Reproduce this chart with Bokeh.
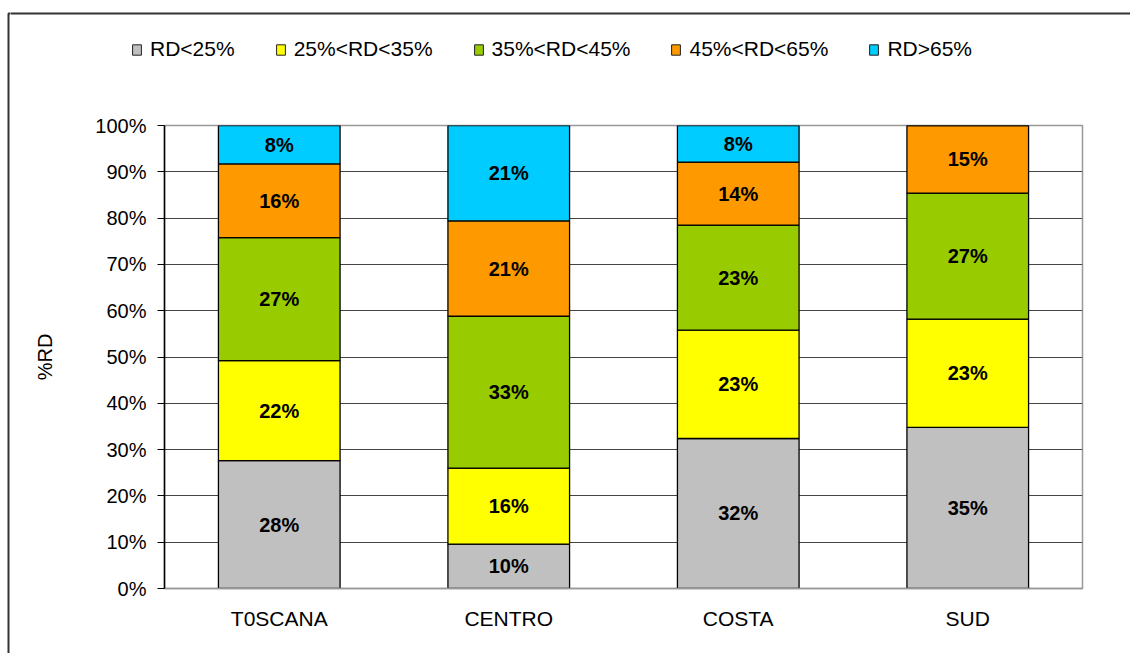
from bokeh.plotting import figure
from bokeh.layouts import column, row
from bokeh.models import (ColumnDataSource, FactorRange, Range1d, FixedTicker,
                          PrintfTickFormatter, Legend, LegendItem, BoxAnnotation)
from bokeh.core.properties import value
from bokeh.embed import file_html
from bokeh.resources import INLINE

# ---- data ----
categories = ["T0SCANA", "CENTRO", "COSTA", "SUD"]
series_names = ["RD<25%", "25%<RD<35%", "35%<RD<45%", "45%<RD<65%", "RD>65%"]
rd_lt25 = [27.6, 9.6, 32.4, 34.8]
rd_25_35 = [21.6, 16.4, 23.4, 23.4]
rd_35_45 = [26.6, 32.8, 22.7, 27.2]
rd_45_65 = [15.9, 20.6, 13.6, 14.6]
rd_gt65 = [8.3, 20.6, 7.9, 0.0]
y_ticks = [0, 10, 20, 30, 40, 50, 60, 70, 80, 90, 100]

colors = ["#C0C0C0", "#FFFF00", "#99CC00", "#FF9900", "#00CCFF"]
keys = ["s0", "s1", "s2", "s3", "s4"]
series = [rd_lt25, rd_25_35, rd_35_45, rd_45_65, rd_gt65]

data = {"cat": categories}
for k, s in zip(keys, series):
    data[k] = s
src = ColumnDataSource(data)

# label positions from data
lx, ly, lt = [], [], []
for i, c in enumerate(categories):
    base = 0.0
    for s in series:
        v = s[i]
        if v > 0:
            lx.append(c)
            ly.append(base + v / 2.0)
            lt.append(f"{round(v):d}%")
        base += v
lsrc = ColumnDataSource({"x": lx, "y": ly, "t": lt})

FONT = "Liberation Sans"
FRAME_COLOR = "#333333"

W, H = 1130, 653
TOP_H = 100
STRIP_W = 10


def bare(fig):
    fig.axis.visible = False
    fig.grid.grid_line_color = None
    fig.outline_line_color = None
    return fig


def frame_edge(left, top):
    # outer chart border (only its top and left edges fall inside the window)
    return BoxAnnotation(left=left, right=10 * W, top=top, bottom=10 * W,
                         fill_alpha=0, line_color=FRAME_COLOR, line_alpha=1.0,
                         line_width=2)


NOB = dict(min_border=0, min_border_left=0, min_border_right=0,
           min_border_top=0, min_border_bottom=0)

# ---- left strip: frame left edge (full height) ----
strip = bare(figure(width=STRIP_W, height=H, output_backend="svg", toolbar_location=None,
                    x_range=Range1d(0, STRIP_W), y_range=Range1d(H, 0), **NOB))
strip.add_layout(frame_edge(8, 13))

# ---- top band: legend + frame top edge ----
top = bare(figure(width=W - STRIP_W, height=TOP_H, output_backend="svg",
                  toolbar_location=None, x_range=Range1d(0, W - STRIP_W),
                  y_range=Range1d(TOP_H, 0), **NOB))
nan = float("nan")
dummy = [top.vbar(x=[nan], top=[nan], width=1, fill_color=c, line_color="#222222",
                  line_width=1) for c in colors]
legend = Legend(items=[LegendItem(label=n, renderers=[r]) for n, r in zip(series_names, dummy)],
                orientation="horizontal", location=(121, 39), padding=0, margin=0,
                border_line_color=None, background_fill_alpha=0,
                label_text_font=FONT, label_text_font_size="21px",
                label_text_color="black",
                glyph_width=11, glyph_height=13, label_standoff=8, spacing=40)
top.add_layout(legend)
top.add_layout(frame_edge(-STRIP_W, 13))

# ---- main chart ----
p = figure(x_range=FactorRange(factors=categories), y_range=Range1d(0, 100),
           width=W - STRIP_W, height=H - TOP_H, output_backend="svg", toolbar_location=None,
           min_border_left=154, min_border_right=48, min_border_top=25,
           min_border_bottom=65, background_fill_color="white",
           border_fill_color="white")

rs = p.vbar_stack(keys, x="cat", width=0.53, fill_color=colors,
                  line_color="black", line_width=1.3, source=src)

p.text(x="x", y="y", text="t", source=lsrc, text_font=value(FONT),
       text_font_style="bold", text_font_size="20px", text_align="center",
       text_baseline="middle", text_color="black")

# y axis
p.yaxis.ticker = FixedTicker(ticks=y_ticks)
p.yaxis.formatter = PrintfTickFormatter(format="%d%%")
p.yaxis.axis_line_color = "black"
p.yaxis.axis_line_width = 1.5
p.yaxis.major_tick_out = 7
p.yaxis.major_tick_in = 0
p.yaxis.major_tick_line_color = "black"
p.yaxis.minor_tick_line_color = None
p.yaxis.major_label_standoff = 11
p.yaxis.major_label_text_font = FONT
p.yaxis.major_label_text_font_size = "20px"
p.yaxis.major_label_text_color = "black"
p.yaxis.axis_label = "%RD"
p.yaxis.axis_label_text_font = FONT
p.yaxis.axis_label_text_font_size = "20px"
p.yaxis.axis_label_text_font_style = "normal"
p.yaxis.axis_label_text_color = "black"
p.yaxis.axis_label_standoff = 36

# x axis
p.xaxis.axis_line_color = "#999999"
p.xaxis.axis_line_width = 1.5
p.xaxis.major_tick_line_color = None
p.xaxis.minor_tick_line_color = None
p.xaxis.major_label_standoff = 12
p.xaxis.major_label_text_font = FONT
p.xaxis.major_label_text_font_size = "21px"
p.xaxis.major_label_text_color = "black"

# grid / outline
p.xgrid.grid_line_color = None
p.ygrid.ticker = FixedTicker(ticks=y_ticks[1:-1])
p.ygrid.grid_line_color = "#444444"
p.ygrid.grid_line_width = 1
p.outline_line_color = "#999999"
p.outline_line_width = 1.5

# wrapping each band in its own row keeps the column from aligning their frames
layout = row(strip, column(row(top, spacing=0), row(p, spacing=0), spacing=0), spacing=0)

open("out.html", "w").write(file_html(layout, INLINE))
